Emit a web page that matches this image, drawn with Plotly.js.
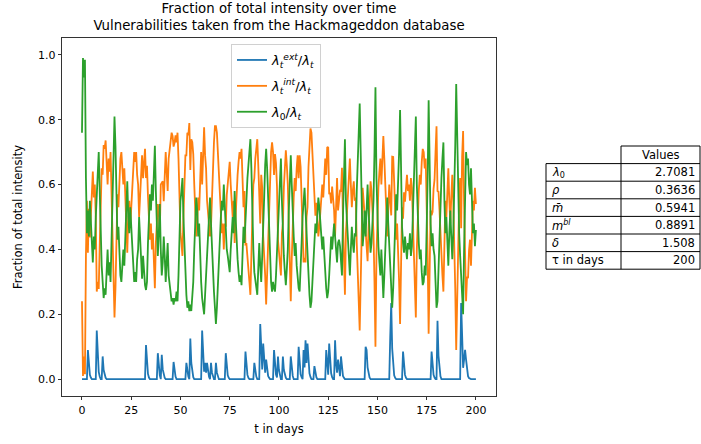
<!DOCTYPE html>
<html>
<head>
<meta charset="utf-8">
<script src="https://cdn.plot.ly/plotly-3.0.1.min.js"></script>
<style>html,body{margin:0;padding:0;background:#fff;}#chart{width:701px;height:444px;}</style>
</head>
<body>
<div id="chart"></div>
<script>
// ---- data (half-day steps, t = 0 ... 200) ----
const days = Array.from({length: 401}, (_, i) => i / 2);

// lambda_t^ext / lambda_t
const extFraction = [
0,0,0,0,0,0,0.09,0.035,0.013,0.005,
0,0,0,0,0,0.15,0.06,0.022,0.008,0,
0,0.07,0.028,0.01,0.004,0,0,0,0,0,
0,0,0,0,0,0,0,0,0,0,
0,0,0,0,0,0,0,0,0,0,
0,0,0,0,0,0,0,0,0,0,
0,0,0,0,0,0.105,0.042,0.016,0.005,0,
0,0,0,0,0,0,0,0.08,0.032,0.012,
0,0.075,0.03,0.011,0.004,0,0,0,0,0,
0,0,0,0.053,0.021,0.008,0,0,0,0,
0,0,0,0,0,0,0.05,0.02,0.008,0,
0.125,0.05,0.019,0.006,0,0,0,0,0,0,
0,0,0.15,0.06,0.023,0.05,0.02,0.05,0.02,0.007,
0,0.05,0.02,0.008,0,0,0.05,0.02,0.008,0,
0,0,0,0,0,0,0.08,0.032,0.012,0.004,
0,0,0,0,0,0,0,0,0,0,
0,0,0,0,0,0,0.085,0.034,0.013,0.004,
0,0,0,0,0,0.05,0.02,0.008,0,0,
0,0.17,0.07,0.03,0.11,0.045,0.02,0.06,0.025,0.01,
0.004,0,0,0,0,0.09,0.036,0.014,0.005,0.07,
0.028,0.01,0,0,0.07,0.028,0.01,0.004,0,0,
0,0,0.07,0.028,0.01,0,0,0,0,0,
0.10,0.04,0.015,0.006,0,0.09,0.036,0.12,0.05,0.11,
0.045,0.018,0.007,0,0,0,0.04,0.016,0.006,0,
0,0,0,0,0,0,0,0,0.09,0.036,
0.014,0.11,0.045,0.018,0.006,0,0,0.12,0.048,0.02,
0.06,0.024,0.009,0.07,0.028,0.01,0.004,0,0,0,
0,0,0,0,0,0,0,0,0,0,
0,0,0,0,0,0,0,0,0.10,0.09,
0.036,0.014,0.005,0,0,0,0,0,0,0,
0,0,0,0,0,0,0,0,0,0,
0,0,0,0.13,0.235,0.094,0.035,0.012,0.004,0,
0,0,0,0,0,0,0.085,0.034,0.013,0.004,
0,0,0,0,0,0,0,0,0,0,
0,0,0,0,0,0,0,0,0,0,
0,0,0,0,0,0.085,0.034,0.013,0.005,0,
0,0.18,0.072,0.027,0.009,0,0,0,0,0,
0,0,0,0,0,0,0,0,0,0,
0,0,0,0,0,0.235,0.094,0.035,0.06,0.09,
0.06,0.024,0.009,0.003,0,0,0,0,0,0,
0
];

// lambda_t^int / lambda_t
const intFraction = [
0.24,0.01,0.07,0.015,0.38,0.55,0.39,0.525,0.437,0.525,
0.58,0.64,0.56,0.60,0.50,0.27,0.30,0.278,0.412,0.55,
0.65,0.63,0.722,0.71,0.736,0.67,0.60,0.68,0.64,0.70,
0.55,0.43,0.35,0.19,0.28,0.45,0.57,0.53,0.62,0.68,
0.70,0.64,0.60,0.65,0.58,0.48,0.39,0.50,0.55,0.47,
0.53,0.60,0.64,0.70,0.67,0.70,0.63,0.60,0.50,0.58,
0.64,0.69,0.62,0.67,0.71,0.62,0.658,0.564,0.515,0.43,
0.48,0.40,0.45,0.36,0.28,0.42,0.50,0.54,0.518,0.448,
0.60,0.605,0.61,0.549,0.616,0.70,0.64,0.58,0.68,0.71,
0.74,0.76,0.75,0.717,0.729,0.752,0.73,0.76,0.68,0.55,
0.45,0.42,0.38,0.50,0.60,0.69,0.69,0.76,0.752,0.79,
0.645,0.74,0.731,0.694,0.60,0.52,0.44,0.48,0.56,0.52,
0.64,0.70,0.60,0.72,0.777,0.69,0.65,0.55,0.51,0.473,
0.44,0.47,0.58,0.662,0.73,0.78,0.78,0.76,0.692,0.63,
0.55,0.50,0.45,0.48,0.40,0.48,0.47,0.568,0.608,0.646,
0.67,0.60,0.55,0.50,0.55,0.42,0.50,0.58,0.63,0.67,
0.70,0.68,0.71,0.62,0.53,0.58,0.415,0.416,0.367,0.336,
0.30,0.26,0.35,0.50,0.60,0.62,0.68,0.712,0.74,0.66,
0.58,0.48,0.63,0.59,0.44,0.395,0.32,0.23,0.325,0.44,
0.546,0.65,0.70,0.73,0.70,0.63,0.694,0.666,0.595,0.43,
0.392,0.34,0.32,0.45,0.48,0.592,0.66,0.706,0.66,0.60,
0.48,0.38,0.24,0.372,0.49,0.56,0.62,0.58,0.65,0.69,
0.62,0.69,0.655,0.574,0.50,0.36,0.374,0.36,0.50,0.53,
0.655,0.722,0.773,0.76,0.70,0.64,0.54,0.504,0.544,0.47,
0.44,0.47,0.52,0.55,0.60,0.56,0.62,0.68,0.63,0.714,
0.716,0.57,0.575,0.542,0.594,0.55,0.52,0.44,0.542,0.62,
0.52,0.546,0.581,0.58,0.652,0.49,0.376,0.26,0.45,0.52,
0.59,0.64,0.68,0.60,0.53,0.58,0.61,0.55,0.56,0.42,
0.35,0.24,0.15,0.30,0.48,0.59,0.55,0.48,0.46,0.41,
0.364,0.466,0.555,0.61,0.58,0.52,0.45,0.30,0.10,0.38,
0.52,0.59,0.64,0.68,0.60,0.70,0.75,0.68,0.58,0.50,
0.44,0.52,0.60,0.55,0.505,0.686,0.685,0.608,0.536,0.43,
0.48,0.40,0.30,0.17,0.38,0.53,0.495,0.576,0.547,0.596,
0.63,0.58,0.60,0.55,0.62,0.59,0.48,0.35,0.22,0.19,
0.40,0.53,0.58,0.63,0.60,0.67,0.71,0.70,0.65,0.68,
0.55,0.38,0.14,0.36,0.52,0.505,0.516,0.587,0.615,0.70,
0.78,0.58,0.578,0.523,0.441,0.38,0.32,0.27,0.45,0.55,
0.50,0.60,0.65,0.55,0.48,0.56,0.63,0.55,0.45,0.28,
0.09,0.28,0.45,0.55,0.62,0.465,0.686,0.765,0.54,0.33,
0.24,0.316,0.311,0.397,0.43,0.35,0.48,0.55,0.52,0.59,
0.54
];

// lambda_0 / lambda_t
const baseFraction = [
0.76,0.99,0.93,0.985,0.62,0.45,0.52,0.44,0.55,0.47,
0.42,0.36,0.44,0.40,0.50,0.58,0.64,0.70,0.58,0.45,
0.35,0.30,0.25,0.28,0.26,0.33,0.40,0.32,0.36,0.30,
0.45,0.57,0.65,0.81,0.72,0.55,0.43,0.47,0.38,0.32,
0.30,0.36,0.40,0.35,0.42,0.52,0.61,0.50,0.45,0.53,
0.47,0.40,0.36,0.30,0.33,0.30,0.37,0.40,0.50,0.42,
0.36,0.31,0.38,0.33,0.29,0.275,0.30,0.42,0.48,0.57,
0.52,0.60,0.55,0.64,0.72,0.58,0.50,0.38,0.45,0.54,
0.40,0.32,0.36,0.44,0.38,0.30,0.36,0.42,0.32,0.29,
0.26,0.24,0.25,0.23,0.25,0.24,0.27,0.24,0.32,0.45,
0.55,0.58,0.62,0.50,0.40,0.31,0.26,0.22,0.24,0.21,
0.23,0.21,0.25,0.30,0.40,0.48,0.56,0.52,0.44,0.48,
0.36,0.30,0.25,0.22,0.20,0.26,0.33,0.40,0.47,0.52,
0.56,0.48,0.40,0.33,0.27,0.22,0.17,0.22,0.30,0.37,
0.45,0.50,0.55,0.52,0.60,0.52,0.45,0.40,0.38,0.35,
0.33,0.40,0.45,0.50,0.45,0.58,0.50,0.42,0.37,0.33,
0.30,0.32,0.29,0.38,0.47,0.42,0.50,0.55,0.62,0.66,
0.70,0.74,0.65,0.50,0.40,0.33,0.30,0.28,0.26,0.34,
0.42,0.35,0.30,0.38,0.45,0.56,0.66,0.71,0.65,0.55,
0.45,0.35,0.30,0.27,0.30,0.28,0.27,0.32,0.40,0.50,
0.58,0.65,0.68,0.55,0.45,0.38,0.33,0.29,0.34,0.40,
0.52,0.62,0.69,0.60,0.50,0.44,0.38,0.42,0.35,0.31,
0.28,0.27,0.33,0.42,0.50,0.55,0.59,0.52,0.45,0.36,
0.30,0.26,0.22,0.24,0.30,0.36,0.42,0.48,0.45,0.53,
0.56,0.53,0.48,0.45,0.40,0.44,0.38,0.32,0.28,0.25,
0.27,0.32,0.38,0.44,0.40,0.45,0.48,0.44,0.41,0.36,
0.42,0.43,0.41,0.35,0.32,0.50,0.62,0.74,0.55,0.48,
0.41,0.36,0.32,0.40,0.47,0.42,0.39,0.45,0.44,0.58,
0.65,0.76,0.85,0.70,0.52,0.41,0.45,0.52,0.44,0.50,
0.60,0.52,0.44,0.39,0.42,0.48,0.55,0.70,0.90,0.62,
0.48,0.41,0.36,0.32,0.40,0.30,0.25,0.32,0.42,0.50,
0.56,0.48,0.40,0.32,0.26,0.22,0.28,0.38,0.46,0.57,
0.52,0.60,0.70,0.83,0.62,0.47,0.42,0.39,0.44,0.40,
0.37,0.42,0.40,0.45,0.38,0.41,0.52,0.65,0.78,0.81,
0.60,0.47,0.42,0.37,0.40,0.33,0.29,0.30,0.35,0.32,
0.45,0.62,0.86,0.64,0.48,0.41,0.45,0.40,0.38,0.30,
0.22,0.24,0.35,0.45,0.55,0.62,0.68,0.73,0.55,0.45,
0.50,0.40,0.35,0.45,0.52,0.44,0.37,0.45,0.55,0.72,
0.91,0.72,0.55,0.45,0.38,0.30,0.22,0.20,0.40,0.58,
0.70,0.66,0.68,0.60,0.57,0.65,0.52,0.45,0.48,0.41,
0.46
];

const seriesNames = [
  '<i>λ</i><sub><i>t</i></sub><sup><i>ext</i></sup>/<i>λ</i><sub><i>t</i></sub>',
  '<i>λ</i><sub><i>t</i></sub><sup><i>int</i></sup>/<i>λ</i><sub><i>t</i></sub>',
  '<i>λ</i><sub>0</sub>/<i>λ</i><sub><i>t</i></sub>'
];

const xTicks = [0, 25, 50, 75, 100, 125, 150, 175, 200];
const yTicks = [0.0, 0.2, 0.4, 0.6, 0.8, 1.0];

const tableHeader = 'Values';
const tableRowLabels = ['<i>λ</i><sub>0</sub>', '<i>ρ</i>', '<i>m̄</i>', '<i>m</i><sup><i>bl</i></sup>', '<i>δ</i>', 'τ in days'];
const tableValues = ['2.7081', '0.3636', '0.5941', '0.8891', '1.508', '200'];

// ---- layout helpers ----
const W = 701, H = 444;
const plotL = 62, plotR = 496, plotT = 38, plotB = 396;
const px2paperX = X => (X - plotL) / (plotR - plotL);
const px2paperY = Y => (plotB - Y) / (plotB - plotT);

const FONT = 'DejaVu Sans, sans-serif';
const colors = ['#1f77b4', '#ff7f0e', '#2ca02c'];

const traces = [extFraction, intFraction, baseFraction].map((ys, i) => ({
  type: 'scatter', mode: 'lines', x: days, y: ys, name: seriesNames[i],
  legendgroup: 'g' + i,
  line: {color: colors[i], width: 1.8}
}));

// table built from its arrays
const shapes = [];
const annotations = [];
const tL = 546, tM = 621, tR = 700, tTop = 146, rowH = 17.6;
const hdrBottom = tTop + rowH;
const tBottom = hdrBottom + rowH * tableRowLabels.length;
const line = (x0, y0, x1, y1) => shapes.push({
  type: 'line', xref: 'paper', yref: 'paper',
  x0: px2paperX(x0), y0: px2paperY(y0), x1: px2paperX(x1), y1: px2paperY(y1),
  line: {color: '#000', width: 1}
});
line(tM, tTop, tR, tTop);
line(tM, tTop, tM, tBottom);
line(tR, tTop, tR, tBottom);
line(tL, hdrBottom, tR, hdrBottom);
line(tL, hdrBottom, tL, tBottom);
for (let i = 1; i <= tableRowLabels.length; i++) line(tL, hdrBottom + rowH * i, tR, hdrBottom + rowH * i);

annotations.push({
  xref: 'paper', yref: 'paper', x: px2paperX((tM + tR) / 2), y: px2paperY(tTop + rowH / 2),
  text: tableHeader, showarrow: false, xanchor: 'center', yanchor: 'middle',
  font: {family: FONT, size: 11.5, color: '#000'}
});
tableRowLabels.forEach((lab, i) => {
  const yc = px2paperY(hdrBottom + rowH * (i + 0.5));
  annotations.push({
    xref: 'paper', yref: 'paper', x: px2paperX(tL + 4), y: yc, text: lab,
    showarrow: false, xanchor: 'left', yanchor: 'middle',
    font: {family: FONT, size: 11.5, color: '#000'}
  });
  annotations.push({
    xref: 'paper', yref: 'paper', x: px2paperX(tR - 3), y: yc, text: tableValues[i],
    showarrow: false, xanchor: 'right', yanchor: 'middle',
    font: {family: FONT, size: 11.5, color: '#000'}
  });
});

const layout = {
  width: W, height: H,
  margin: {l: plotL, r: W - plotR, t: plotT, b: H - plotB, pad: 0},
  paper_bgcolor: '#fff', plot_bgcolor: '#fff',
  font: {family: FONT, size: 11, color: '#000'},
  title: {
    text: 'Fraction of total intensity over time<br>Vulnerabilities taken from the Hackmageddon database',
    font: {family: FONT, size: 13.3, color: '#000'},
    x: px2paperX(279), xref: 'paper', xanchor: 'center',
    y: 1 - 13 / H, yref: 'container', yanchor: 'top'
  },
  xaxis: {
    range: [-10.15, 210.2], tickvals: xTicks, ticktext: xTicks.map(String),
    ticks: 'outside', ticklen: 3.5, tickwidth: 0.8, tickcolor: '#000',
    showline: true, linecolor: '#000', linewidth: 0.8, mirror: true,
    showgrid: false, zeroline: false,
    tickfont: {family: FONT, size: 11, color: '#000'},
    title: {text: 't in days', font: {family: FONT, size: 11.5, color: '#000'}, standoff: 9}
  },
  yaxis: {
    range: [-0.052, 1.052], tickvals: yTicks, ticktext: yTicks.map(v => v.toFixed(1)),
    ticks: 'outside', ticklen: 3.5, tickwidth: 0.8, tickcolor: '#000',
    showline: true, linecolor: '#000', linewidth: 0.8, mirror: true,
    showgrid: false, zeroline: false,
    tickfont: {family: FONT, size: 11, color: '#000'},
    title: {text: 'Fraction of total intensity', font: {family: FONT, size: 11.5, color: '#000'}, standoff: 12}
  },
  legend: {
    x: px2paperX(231), y: px2paperY(44), xanchor: 'left', yanchor: 'top',
    bgcolor: 'rgba(255,255,255,0.8)', bordercolor: '#d0d0d0', borderwidth: 1,
    font: {family: FONT, size: 13, color: '#000'},
    tracegroupgap: 6, itemwidth: 30
  },
  showlegend: true,
  shapes: shapes,
  annotations: annotations
};

Plotly.newPlot('chart', traces, layout, {displayModeBar: false, staticPlot: true});
</script>
</body>
</html>
